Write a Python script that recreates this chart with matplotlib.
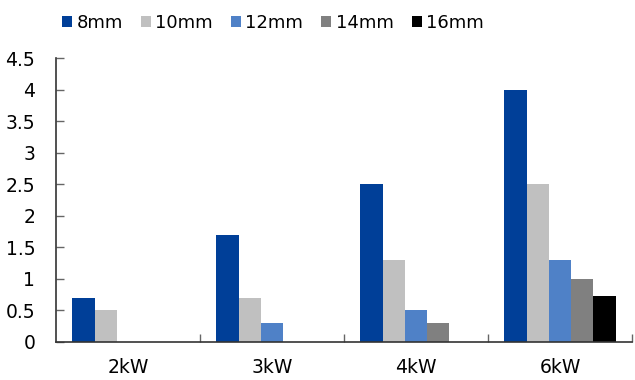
import matplotlib
matplotlib.use("Agg")
import matplotlib.pyplot as plt
import numpy as np

categories = ["2kW", "3kW", "4kW", "6kW"]
series_names = ["8mm", "10mm", "12mm", "14mm", "16mm"]
values_8mm = [0.7, 1.7, 2.5, 4.0]
values_10mm = [0.5, 0.7, 1.3, 2.5]
values_12mm = [0.0, 0.3, 0.5, 1.3]
values_14mm = [0.0, 0.0, 0.3, 1.0]
values_16mm = [0.0, 0.0, 0.0, 0.72]
y_ticks = [0, 0.5, 1, 1.5, 2, 2.5, 3, 3.5, 4, 4.5]
y_tick_labels = ["0", "0.5", "1", "1.5", "2", "2.5", "3", "3.5", "4", "4.5"]

colors = ["#003F98", "#C0C0C0", "#4F81C7", "#808080", "#000000"]
all_values = [values_8mm, values_10mm, values_12mm, values_14mm, values_16mm]

plt.rcParams["font.family"] = ["DejaVu Sans"]
FS = 13.5

fig = plt.figure(figsize=(6.35, 3.8), dpi=100)
ax = fig.add_axes([56 / 635, 1 - 341.7 / 380, 576 / 635, (341.7 - 58.3) / 380])

x = np.arange(len(categories))
bar_w = 0.155
offsets = (np.arange(5) - 2) * bar_w
handles = []
for vals, off, col, name in zip(all_values, offsets, colors, series_names):
    b = ax.bar(x + off, vals, width=bar_w, color=col, label=name, linewidth=0)
    handles.append(b)

ax.set_xlim(-0.5, len(categories) - 0.5)
ax.set_ylim(0, 4.5)
ax.set_yticks(y_ticks)
ax.set_yticklabels(y_tick_labels, fontsize=FS, color="#000000")
ax.tick_params(axis="y", direction="in", length=6, width=1, color="#666666", pad=15)

# Category labels centered in groups, tick marks on the group boundaries
ax.set_xticks(x)
ax.set_xticklabels(categories, fontsize=FS)
ax.tick_params(axis="x", which="major", length=0, pad=12)
ax.set_xticks(np.arange(0.5, len(categories), 1.0), minor=True)
ax.tick_params(axis="x", which="minor", direction="in", length=6, width=1, color="#666666")

for side in ["top", "right"]:
    ax.spines[side].set_visible(False)
for side in ["left", "bottom"]:
    ax.spines[side].set_color("#333333")
    ax.spines[side].set_linewidth(1.2)

fig.legend(handles=handles, labels=series_names, loc="center left",
           bbox_to_anchor=(62 / 635, 1 - 22.7 / 380),
           ncol=5, frameon=False, fontsize=13, handlelength=0.55, handleheight=0.55,
           handletextpad=0.25, columnspacing=1.0, borderaxespad=0, borderpad=0)

fig.savefig("out.png", dpi=100)
